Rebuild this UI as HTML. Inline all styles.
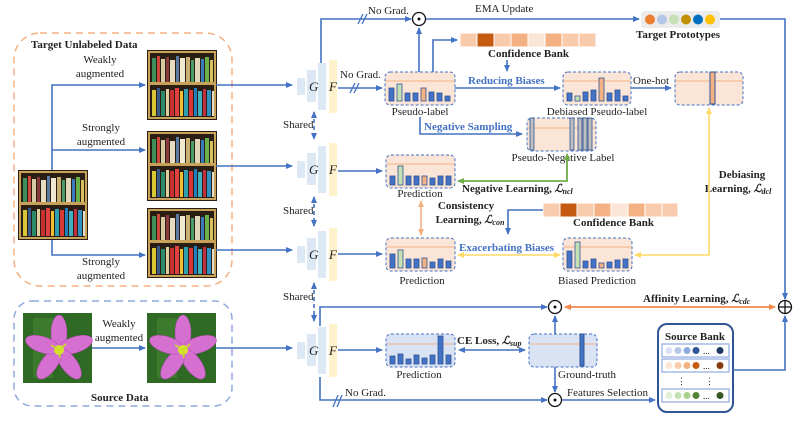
<!DOCTYPE html>
<html><head><meta charset="utf-8"><style>
html,body{margin:0;padding:0;background:#fff;width:793px;height:437px;overflow:hidden}
svg{display:block}
text{font-family:"Liberation Serif",serif;font-size:11px;fill:#222}
.b{font-weight:bold}
.bl{fill:#4472c4;font-weight:bold}
.ln{stroke:#4472c4;stroke-width:1.6;fill:none}
</style></head><body>
<svg width="793" height="437" viewBox="0 0 793 437" xmlns="http://www.w3.org/2000/svg">
<defs>
<marker id="a" markerWidth="8" markerHeight="8" refX="6" refY="3" orient="auto" markerUnits="userSpaceOnUse"><path d="M0,0 L7,3 L0,6z" fill="#4472c4"/></marker>
<marker id="ao" markerWidth="8" markerHeight="8" refX="6" refY="3" orient="auto-start-reverse" markerUnits="userSpaceOnUse"><path d="M0,0 L7,3 L0,6z" fill="#f08a4b"/></marker>
<marker id="ap" markerWidth="8" markerHeight="8" refX="6" refY="3" orient="auto-start-reverse" markerUnits="userSpaceOnUse"><path d="M0,0 L7,3 L0,6z" fill="#f4b183"/></marker>
<marker id="ay" markerWidth="8" markerHeight="8" refX="6" refY="3" orient="auto-start-reverse" markerUnits="userSpaceOnUse"><path d="M0,0 L7,3 L0,6z" fill="#ffd966"/></marker>
<marker id="ag" markerWidth="8" markerHeight="8" refX="6" refY="3" orient="auto-start-reverse" markerUnits="userSpaceOnUse"><path d="M0,0 L7,3 L0,6z" fill="#70ad47"/></marker>
<marker id="ab" markerWidth="8" markerHeight="8" refX="6" refY="3" orient="auto-start-reverse" markerUnits="userSpaceOnUse"><path d="M0,0 L7,3 L0,6z" fill="#4472c4"/></marker>
<g id="shelf">
<rect x="0" y="0" width="70" height="70" fill="#2a1e14"/>
<rect x="2" y="2" width="66" height="66" fill="none" stroke="#c9a25a" stroke-width="2"/>
<rect x="2" y="32" width="66" height="3" fill="#c9a25a"/>
<rect x="5" y="8" width="4" height="24" fill="#3d8f5a"/><rect x="10" y="6" width="3" height="26" fill="#c94a3a"/><rect x="14" y="9" width="4" height="23" fill="#d9c9a0"/><rect x="19" y="7" width="3" height="25" fill="#8a3a3a"/><rect x="23" y="10" width="5" height="22" fill="#e8dcc0"/><rect x="29" y="6" width="3" height="26" fill="#5a7aa0"/><rect x="33" y="8" width="5" height="24" fill="#f0e8d0"/><rect x="39" y="7" width="4" height="25" fill="#c8b070"/><rect x="44" y="10" width="3" height="22" fill="#4a9a6a"/><rect x="48" y="8" width="5" height="24" fill="#e0d8b8"/><rect x="54" y="9" width="3" height="23" fill="#3a7abf"/><rect x="58" y="7" width="4" height="25" fill="#6ab04a"/><rect x="63" y="10" width="3" height="22" fill="#d8c060"/>
<rect x="5" y="40" width="4" height="26" fill="#d8c838"/><rect x="10" y="38" width="3" height="28" fill="#3a5a8a"/><rect x="14" y="41" width="4" height="25" fill="#2a8a6a"/><rect x="19" y="39" width="3" height="27" fill="#e0d0a0"/><rect x="23" y="40" width="4" height="26" fill="#c83030"/><rect x="28" y="38" width="4" height="28" fill="#e04040"/><rect x="33" y="41" width="3" height="25" fill="#f0c030"/><rect x="37" y="39" width="4" height="27" fill="#30a0b0"/><rect x="42" y="40" width="4" height="26" fill="#d83838"/><rect x="47" y="38" width="3" height="28" fill="#2080c0"/><rect x="51" y="41" width="4" height="25" fill="#40b0c0"/><rect x="56" y="39" width="3" height="27" fill="#c03040"/><rect x="60" y="40" width="4" height="26" fill="#3090c0"/><rect x="65" y="41" width="2" height="25" fill="#e0e0d0"/>
</g>
<g id="flower">
<rect x="0" y="0" width="69" height="70" fill="#2f6a25"/>
<rect x="10" y="5" width="20" height="60" fill="#4a8a35" opacity="0.5"/>
<g transform="translate(36,37)" fill="#d56fd0" stroke="#b04ab0" stroke-width="0.5">
<ellipse cx="0" cy="-17" rx="8" ry="18"/>
<ellipse cx="0" cy="-17" rx="8" ry="18" transform="rotate(72)"/>
<ellipse cx="0" cy="-17" rx="8" ry="18" transform="rotate(144)"/>
<ellipse cx="0" cy="-17" rx="8" ry="18" transform="rotate(216)"/>
<ellipse cx="0" cy="-17" rx="8" ry="18" transform="rotate(288)"/>
</g>
<circle cx="36" cy="37" r="5" fill="#d8e030"/>
<path d="M36,37 l-8,-5 M36,37 l7,-6 M36,37 l1,8" stroke="#c8e020" stroke-width="1.5"/>
</g>
</defs>

<rect x="14" y="33" width="218" height="253" rx="26" fill="none" stroke="#f4b183" stroke-width="1.5" stroke-dasharray="7,5"/>
<text x="31" y="48" class="b">Target Unlabeled Data</text>
<rect x="14" y="301" width="218" height="105" rx="18" fill="none" stroke="#8faadc" stroke-width="1.5" stroke-dasharray="7,5"/>
<text x="91" y="401" class="b">Source Data</text>

<use href="#shelf" x="18" y="170"/>
<use href="#shelf" x="147" y="50"/>
<use href="#shelf" x="147" y="131"/>
<use href="#shelf" x="147" y="208"/>
<use href="#flower" x="23" y="313"/>
<use href="#flower" x="147" y="313"/>

<path class="ln" d="M52,170 V85 H145" marker-end="url(#a)"/>
<path class="ln" d="M52,150 H145" marker-end="url(#a)"/>
<path class="ln" d="M52,240 V255 H145" marker-end="url(#a)"/>
<text x="100" y="63" text-anchor="middle">Weakly</text><text x="100" y="77" text-anchor="middle">augmented</text>
<text x="101" y="131" text-anchor="middle">Strongly</text><text x="101" y="145" text-anchor="middle">augmented</text>
<text x="101" y="265" text-anchor="middle">Strongly</text><text x="101" y="279" text-anchor="middle">augmented</text>
<path class="ln" d="M92,348 H145" marker-end="url(#a)"/>
<text x="119" y="327" text-anchor="middle">Weakly</text><text x="119" y="341" text-anchor="middle">augmented</text>

<path class="ln" d="M216,85 H292" marker-end="url(#a)"/>
<path class="ln" d="M216,166 H292" marker-end="url(#a)"/>
<path class="ln" d="M216,250 H292" marker-end="url(#a)"/>
<path class="ln" d="M216,348 H292" marker-end="url(#a)"/>

<g id="gf">
<rect x="297" y="78" width="8" height="17" fill="#dde8f5"/>
<rect x="307" y="70" width="9" height="32" fill="#dde8f5"/>
<rect x="318" y="63" width="8" height="47" fill="#dde8f5"/>
<rect x="329" y="60" width="8" height="53" fill="#fff2cc"/>
<text x="309" y="91" style="font-style:italic;font-size:13px">G</text>
<text x="329" y="91" style="font-style:italic;font-size:13px">F</text>
</g>
<use href="#gf" y="83"/>
<use href="#gf" y="168"/>
<use href="#gf" y="264"/>
<text x="283" y="128">Shared</text>
<text x="283" y="214">Shared</text>
<text x="283" y="300">Shared</text>
<path class="ln" d="M314,112 V139" stroke-dasharray="4,3" marker-start="url(#ab)" marker-end="url(#ab)"/>
<path class="ln" d="M314,197 V226" stroke-dasharray="4,3" marker-start="url(#ab)" marker-end="url(#ab)"/>
<path class="ln" d="M314,283 V321" stroke-dasharray="4,3" marker-start="url(#ab)" marker-end="url(#ab)"/>

<path class="ln" d="M321,63 V19 H411" marker-end="url(#a)"/>
<path d="M358,24 l5,-10 M362,24 l5,-10" stroke="#4472c4" stroke-width="1.3"/>
<text x="368" y="14">No Grad.</text>
<circle cx="419" cy="19" r="6.5" fill="#fff" stroke="#111" stroke-width="1.3"/><circle cx="419" cy="19" r="1.5" fill="#111"/>
<path class="ln" d="M426,19 H639" marker-end="url(#a)"/>
<text x="475" y="12">EMA Update</text>
<rect x="641" y="11" width="79" height="17" rx="3" fill="#ececec"/>
<circle cx="650" cy="19.5" r="5" fill="#ed7d31"/><circle cx="662" cy="19.5" r="5" fill="#b4c7e7"/><circle cx="674" cy="19.5" r="5" fill="#c5e0b4"/><circle cx="686" cy="19.5" r="5" fill="#bf9000"/><circle cx="698" cy="19.5" r="5" fill="#0070c0"/><circle cx="710" cy="19.5" r="5" fill="#ffc000"/>
<text x="636" y="38" class="b">Target Prototypes</text>
<path class="ln" d="M720,19 H785 V299" marker-end="url(#a)"/>

<path class="ln" d="M338,88 H382" marker-end="url(#a)"/>
<path d="M350,93 l5,-10 M354,93 l5,-10" stroke="#4472c4" stroke-width="1.3"/>
<text x="340" y="78">No Grad.</text>
<rect x="385" y="72" width="70" height="33" rx="5" fill="#fbe5d6" stroke="#4472c4" stroke-dasharray="3,2"/>
<line x1="386" y1="81" x2="454" y2="81" stroke="#f4b183"/>
<g stroke="#2f5597" stroke-width="0.8">
<rect x="389" y="88" width="5" height="13" fill="#4472c4"/><rect x="397" y="84" width="5" height="17" fill="#c5e0b4"/><rect x="405" y="93" width="5" height="8" fill="#4472c4"/><rect x="413" y="93" width="5" height="8" fill="#4472c4"/><rect x="421" y="88" width="5" height="13" fill="#f4b183"/><rect x="429" y="92" width="5" height="9" fill="#4472c4"/><rect x="437" y="93" width="5" height="8" fill="#4472c4"/><rect x="445" y="96" width="5" height="5" fill="#4472c4"/>
</g>
<text x="420" y="115" text-anchor="middle">Pseudo-label</text>
<path class="ln" d="M419,72 V28" marker-end="url(#a)"/>
<path class="ln" d="M433,72 V40 H457" marker-end="url(#a)"/>
<g stroke="#fff" stroke-width="1">
<rect x="460" y="33" width="17" height="14" fill="#f8cbad"/><rect x="477" y="33" width="17" height="14" fill="#c55a11"/><rect x="494" y="33" width="17" height="14" fill="#f8cbad"/><rect x="511" y="33" width="17" height="14" fill="#f4b183"/><rect x="528" y="33" width="17" height="14" fill="#fbe5d6"/><rect x="545" y="33" width="17" height="14" fill="#f4b183"/><rect x="562" y="33" width="17" height="14" fill="#f8cbad"/><rect x="579" y="33" width="17" height="14" fill="#f8cbad"/>
</g>
<text x="488" y="57" class="b">Confidence Bank</text>
<path class="ln" d="M507,60 V71" marker-end="url(#a)"/>
<text x="468" y="84" class="bl">Reducing Biases</text>
<path class="ln" d="M455,88 H560" marker-end="url(#a)"/>
<rect x="563" y="72" width="68" height="33" rx="5" fill="#fbe5d6" stroke="#4472c4" stroke-dasharray="3,2"/>
<line x1="564" y1="81" x2="630" y2="81" stroke="#f4b183"/>
<g stroke="#2f5597" stroke-width="0.8">
<rect x="567" y="93" width="5" height="8" fill="#4472c4"/><rect x="575" y="96" width="5" height="5" fill="#c5e0b4"/><rect x="583" y="92" width="5" height="9" fill="#4472c4"/><rect x="591" y="90" width="5" height="11" fill="#4472c4"/><rect x="599" y="78" width="5" height="23" fill="#f4b183"/><rect x="607" y="93" width="5" height="8" fill="#4472c4"/><rect x="615" y="90" width="5" height="11" fill="#4472c4"/><rect x="623" y="96" width="5" height="5" fill="#4472c4"/>
</g>
<text x="597" y="115" text-anchor="middle">Debiased Pseudo-label</text>
<text x="633" y="84">One-hot</text>
<path class="ln" d="M631,88 H671" marker-end="url(#a)"/>
<rect x="675" y="72" width="68" height="33" rx="5" fill="#fbe5d6" stroke="#4472c4" stroke-dasharray="3,2"/>
<line x1="676" y1="81" x2="742" y2="81" stroke="#f4b183"/>
<rect x="710" y="72" width="5" height="32" fill="#f4b183" stroke="#2f5597"/>

<path class="ln" d="M420,117 V134 H522" marker-end="url(#a)"/>
<text x="424" y="130" class="bl">Negative Sampling</text>
<rect x="527" y="118" width="69" height="33" rx="5" fill="#fbe5d6" stroke="#4472c4" stroke-dasharray="3,2"/>
<line x1="528" y1="128" x2="595" y2="128" stroke="#f4b183"/>
<g fill="#bfbfbf" stroke="#2f5597" stroke-width="0.8">
<rect x="530" y="118" width="4" height="32"/><rect x="570" y="118" width="4" height="32"/><rect x="578" y="118" width="4" height="32"/><rect x="583" y="118" width="4" height="32"/><rect x="588" y="118" width="4" height="32"/>
</g>
<text x="563" y="161" text-anchor="middle">Pseudo-Negative Label</text>

<path class="ln" d="M338,171 H382" marker-end="url(#a)"/>
<rect x="386" y="155" width="69" height="33" rx="5" fill="#fbe5d6" stroke="#4472c4" stroke-dasharray="3,2"/>
<line x1="387" y1="164" x2="454" y2="164" stroke="#f4b183"/>
<g stroke="#2f5597" stroke-width="0.8">
<rect x="390" y="176" width="5" height="9" fill="#4472c4"/><rect x="398" y="166" width="5" height="19" fill="#c5e0b4"/><rect x="406" y="176" width="5" height="9" fill="#4472c4"/><rect x="414" y="176" width="5" height="9" fill="#4472c4"/><rect x="422" y="176" width="5" height="9" fill="#f4b183"/><rect x="430" y="178" width="5" height="7" fill="#4472c4"/><rect x="438" y="176" width="5" height="9" fill="#4472c4"/><rect x="446" y="176" width="5" height="9" fill="#4472c4"/>
</g>
<text x="420" y="197" text-anchor="middle">Prediction</text>
<path d="M458,181 H567 V154" stroke="#70ad47" stroke-width="1.8" fill="none" marker-start="url(#ag)" marker-end="url(#ag)"/>
<text x="462" y="192" class="b">Negative Learning, <tspan style="font-style:italic">ℒ</tspan><tspan style="font-size:8px;font-style:italic" dy="2">ncl</tspan></text>
<text x="742" y="178" class="b" text-anchor="middle">Debiasing</text>
<text x="738" y="192" class="b" text-anchor="middle">Learning, <tspan style="font-style:italic">ℒ</tspan><tspan style="font-size:8px;font-style:italic" dy="2">dcl</tspan></text>

<path d="M421,201 V235" stroke="#f4b183" stroke-width="1.6" fill="none" marker-start="url(#ap)" marker-end="url(#ap)"/>
<text x="466" y="209" class="b" text-anchor="middle">Consistency</text>
<text x="470" y="223" class="b" text-anchor="middle">Learning, <tspan style="font-style:italic">ℒ</tspan><tspan style="font-size:8px;font-style:italic" dy="2">con</tspan></text>
<g stroke="#fff" stroke-width="1">
<rect x="543" y="203" width="17" height="14" fill="#f8cbad"/><rect x="560" y="203" width="17" height="14" fill="#c55a11"/><rect x="577" y="203" width="17" height="14" fill="#f8cbad"/><rect x="594" y="203" width="17" height="14" fill="#f4b183"/><rect x="611" y="203" width="17" height="14" fill="#fbe5d6"/><rect x="628" y="203" width="17" height="14" fill="#f4b183"/><rect x="645" y="203" width="17" height="14" fill="#f8cbad"/><rect x="662" y="203" width="16" height="14" fill="#f8cbad"/>
</g>
<text x="573" y="226" class="b">Confidence Bank</text>
<path class="ln" d="M543,210 H508 V234" marker-end="url(#a)"/>

<path class="ln" d="M338,254 H382" marker-end="url(#a)"/>
<rect x="386" y="238" width="69" height="33" rx="5" fill="#fbe5d6" stroke="#4472c4" stroke-dasharray="3,2"/>
<line x1="387" y1="247" x2="454" y2="247" stroke="#f4b183"/>
<g stroke="#2f5597" stroke-width="0.8">
<rect x="390" y="254" width="5" height="14" fill="#4472c4"/><rect x="398" y="250" width="5" height="18" fill="#c5e0b4"/><rect x="406" y="259" width="5" height="9" fill="#4472c4"/><rect x="414" y="259" width="5" height="9" fill="#4472c4"/><rect x="422" y="258" width="5" height="10" fill="#f4b183"/><rect x="430" y="262" width="5" height="6" fill="#4472c4"/><rect x="438" y="259" width="5" height="9" fill="#4472c4"/><rect x="446" y="261" width="5" height="7" fill="#4472c4"/>
</g>
<text x="422" y="284" text-anchor="middle">Prediction</text>
<text x="459" y="251" class="bl">Exacerbating Biases</text>
<path d="M458,255 H560" stroke="#ffd966" stroke-width="1.6" fill="none" marker-start="url(#ay)" marker-end="url(#ay)"/>
<rect x="563" y="238" width="69" height="33" rx="5" fill="#fbe5d6" stroke="#4472c4" stroke-dasharray="3,2"/>
<line x1="564" y1="247" x2="631" y2="247" stroke="#f4b183"/>
<g stroke="#2f5597" stroke-width="0.8">
<rect x="567" y="251" width="5" height="17" fill="#4472c4"/><rect x="575" y="242" width="5" height="26" fill="#c5e0b4"/><rect x="583" y="261" width="5" height="7" fill="#4472c4"/><rect x="591" y="259" width="5" height="9" fill="#4472c4"/><rect x="599" y="263" width="5" height="5" fill="#f4b183"/><rect x="607" y="262" width="5" height="6" fill="#4472c4"/><rect x="615" y="260" width="5" height="8" fill="#4472c4"/><rect x="623" y="259" width="5" height="9" fill="#4472c4"/>
</g>
<text x="597" y="284" text-anchor="middle">Biased Prediction</text>
<path d="M635,255 H709 V108" stroke="#ffd966" stroke-width="1.6" fill="none" marker-start="url(#ay)" marker-end="url(#ay)"/>

<path class="ln" d="M320,326 V307 H547" marker-end="url(#a)"/>
<circle cx="555" cy="307" r="6.5" fill="#fff" stroke="#111" stroke-width="1.3"/><circle cx="555" cy="307" r="1.5" fill="#111"/>
<path d="M565,307 H775" stroke="#f08a4b" stroke-width="1.8" fill="none" marker-start="url(#ao)" marker-end="url(#ao)"/>
<text x="643" y="302" class="b">Affinity Learning, <tspan style="font-style:italic">ℒ</tspan><tspan style="font-size:8px;font-style:italic" dy="2">cdc</tspan></text>
<circle cx="785" cy="307" r="6.5" fill="#fff" stroke="#111" stroke-width="1.3"/>
<path d="M778.5,307 H791.5 M785,300.5 V313.5" stroke="#111" stroke-width="1.3"/>
<path class="ln" d="M338,350 H382" marker-end="url(#a)"/>
<rect x="386" y="334" width="69" height="33" rx="5" fill="#dae3f3" stroke="#4472c4" stroke-dasharray="3,2"/>
<line x1="387" y1="344" x2="454" y2="344" stroke="#f4b183"/>
<g stroke="#2f5597" stroke-width="0.8" fill="#4472c4">
<rect x="390" y="356" width="5" height="8"/><rect x="398" y="354" width="5" height="10"/><rect x="406" y="359" width="5" height="5"/><rect x="414" y="355" width="5" height="9"/><rect x="422" y="358" width="5" height="6"/><rect x="430" y="355" width="5" height="9"/><rect x="438" y="336" width="5" height="28"/><rect x="446" y="355" width="5" height="9"/>
</g>
<text x="419" y="378" text-anchor="middle">Prediction</text>
<text x="457" y="344" class="b">CE Loss, <tspan style="font-style:italic">ℒ</tspan><tspan style="font-size:8px;font-style:italic" dy="2">sup</tspan></text>
<path class="ln" d="M459,350 H525" marker-start="url(#ab)" marker-end="url(#ab)"/>
<rect x="529" y="334" width="68" height="33" rx="5" fill="#dae3f3" stroke="#4472c4" stroke-dasharray="3,2"/>
<line x1="530" y1="344" x2="596" y2="344" stroke="#f4b183"/>
<rect x="580" y="334" width="4" height="32" fill="#4472c4" stroke="#2f5597"/>
<path class="ln" d="M555,334 V316" marker-end="url(#a)"/>
<text x="558" y="378">Ground-truth</text>
<path class="ln" d="M555,367 V392" marker-end="url(#a)"/>
<path class="ln" d="M320,377 V400 H547" marker-end="url(#a)"/>
<path d="M333,407 l5,-12 M337,407 l5,-12" stroke="#4472c4" stroke-width="1.3"/>
<text x="345" y="396">No Grad.</text>
<circle cx="555" cy="400" r="6.5" fill="#fff" stroke="#111" stroke-width="1.3"/><circle cx="555" cy="400" r="1.5" fill="#111"/>
<text x="567" y="396">Features Selection</text>
<path class="ln" d="M562,400 H655" marker-end="url(#a)"/>

<rect x="658" y="324" width="75" height="88" rx="9" fill="#fff" stroke="#2f5597" stroke-width="2"/>
<text x="695" y="340" class="b" text-anchor="middle">Source Bank</text>
<rect x="662" y="344" width="67" height="13" fill="none" stroke="#8faadc" stroke-width="1.2"/>
<circle cx="669" cy="350.5" r="3.5" fill="#dae3f3"/><circle cx="678" cy="350.5" r="3.5" fill="#b4c7e7"/><circle cx="687" cy="350.5" r="3.5" fill="#8faadc"/><circle cx="696" cy="350.5" r="3.5" fill="#2f5597"/><text x="703" y="354" style="font-size:9px">...</text><circle cx="720" cy="350.5" r="3.5" fill="#1f3864"/>
<rect x="662" y="359" width="67" height="13" fill="none" stroke="#8faadc" stroke-width="1.2"/>
<circle cx="669" cy="365.5" r="3.5" fill="#fbe5d6"/><circle cx="678" cy="365.5" r="3.5" fill="#f8cbad"/><circle cx="687" cy="365.5" r="3.5" fill="#f4b183"/><circle cx="696" cy="365.5" r="3.5" fill="#c55a11"/><text x="703" y="369" style="font-size:9px">...</text><circle cx="720" cy="365.5" r="3.5" fill="#843c0c"/>
<text x="677" y="384" style="font-size:9px">⋮</text><text x="705" y="384" style="font-size:9px">⋮</text>
<rect x="662" y="389" width="67" height="13" fill="none" stroke="#8faadc" stroke-width="1.2"/>
<circle cx="669" cy="395.5" r="3.5" fill="#e2f0d9"/><circle cx="678" cy="395.5" r="3.5" fill="#c5e0b4"/><circle cx="687" cy="395.5" r="3.5" fill="#a9d18e"/><circle cx="696" cy="395.5" r="3.5" fill="#548235"/><text x="703" y="399" style="font-size:9px">...</text><circle cx="720" cy="395.5" r="3.5" fill="#385723"/>
<path class="ln" d="M733,370 H785 V316" marker-end="url(#a)"/>
</svg>
</body></html>
